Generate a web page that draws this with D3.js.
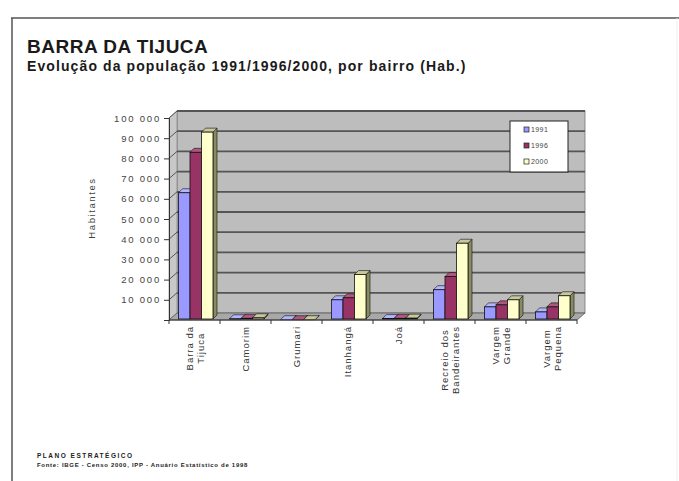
<!DOCTYPE html>
<html><head><meta charset="utf-8">
<script src="https://cdn.jsdelivr.net/npm/d3@7"></script>
<style>
html,body{margin:0;padding:0;background:#fff;}
svg{display:block;font-family:Arial,"Liberation Sans",sans-serif;}
</style></head>
<body><svg id="c" width="679" height="481"></svg>
<script>
const categories = [["Barra da","Tijuca"],["Camorim"],["Grumari"],["Itanhangá"],["Joá"],["Recreio dos","Bandeirantes"],["Vargem","Grande"],["Vargem","Pequena"]];
const seriesNames = ["1991","1996","2000"];
const v1991 = [63000, 600, 150, 10000, 700, 15000, 6500, 4000];
const v1996 = [83000, 800, 130, 11000, 800, 21500, 7500, 6500];
const v2000 = [93000, 1100, 140, 22500, 900, 38000, 10000, 12000];
const yTicks = [10000,20000,30000,40000,50000,60000,70000,80000,90000,100000];
const colors = ["#9999FF","#993366","#FFFFCC"];
const topCols = ["#b4b4ff","#b0577f","#c8c89a"];
const sideCols = ["#5e5ea8","#5e1f3f","#8a8a60"];

const svg = d3.select("#c");
// frame
svg.append("line").attr("x1",11).attr("x2",679).attr("y1",18).attr("y2",18).attr("stroke","#555").attr("stroke-width",1.5);
svg.append("line").attr("x1",12).attr("x2",12).attr("y1",18).attr("y2",481).attr("stroke","#555").attr("stroke-width",1.5);
svg.append("line").attr("x1",677).attr("x2",677).attr("y1",18).attr("y2",481).attr("stroke","#eee").attr("stroke-width",1);

svg.append("text").attr("x",27).attr("y",53).attr("font-size",19).attr("font-weight","bold").attr("letter-spacing",0.5).attr("fill","#1a1a1a").text("BARRA DA TIJUCA");
svg.append("text").attr("x",27).attr("y",71).attr("font-size",14).attr("font-weight","bold").attr("letter-spacing",1.1).attr("fill","#1a1a1a").text("Evolução da população 1991/1996/2000, por bairro (Hab.)");

const x0 = 169, x1 = 577;
const x = d3.scaleBand().domain(d3.range(categories.length)).range([x0,x1]);
const y = d3.scaleLinear().domain([0,100000]).range([320,118]);
const DX = 8, DY = 7;

const g = svg.append("g");
// back wall
g.append("rect").attr("x",x0+DX).attr("y",y(100000)-DY).attr("width",x1-x0).attr("height",y(0)-y(100000))
  .attr("fill","#bdbdbd").attr("stroke","#777").attr("stroke-width",0.8);
// left side wall
g.append("path").attr("d",`M${x0},${y(0)}L${x0},${y(100000)}L${x0+DX},${y(100000)-DY}L${x0+DX},${y(0)-DY}Z`)
  .attr("fill","#c8c8c8").attr("stroke","#777").attr("stroke-width",0.6);
// floor
g.append("path").attr("d",`M${x0},${y(0)}L${x1},${y(0)}L${x1+DX},${y(0)-DY}L${x0+DX},${y(0)-DY}Z`)
  .attr("fill","#a8a8a8").attr("stroke","#555").attr("stroke-width",0.8);
// gridlines
yTicks.forEach(t=>{
  g.append("line").attr("x1",x0+DX).attr("x2",x1+DX).attr("y1",y(t)-DY).attr("y2",y(t)-DY).attr("stroke","#555").attr("stroke-width",1.8);
  g.append("line").attr("x1",x0).attr("x2",x0+DX).attr("y1",y(t)).attr("y2",y(t)-DY).attr("stroke","#555").attr("stroke-width",1);
});

// y axis
const yAxis = d3.axisLeft(y).tickValues(yTicks).tickSize(5).tickPadding(3)
  .tickFormat(d=>d3.format(",")(d).replace(/,/g," "));
const ya = svg.append("g").attr("transform",`translate(${x0},0)`).call(yAxis);
ya.select(".domain").attr("stroke","#333");
ya.selectAll(".tick line").attr("stroke","#333");
ya.selectAll("text").attr("font-size",9.5).attr("fill","#444").attr("letter-spacing",1.8).attr("font-family","Arial,sans-serif");

// x axis ticks
const xa = svg.append("g").attr("transform",`translate(0,${y(0)})`);
xa.append("line").attr("x1",x0).attr("x2",x1).attr("stroke","#333");
d3.range(categories.length+1).forEach(i=>{
  const xx = i<categories.length ? x(i) : x1;
  xa.append("line").attr("x1",xx).attr("x2",xx).attr("y1",0).attr("y2",4).attr("stroke","#333");
});

// bars
const series = [v1991,v1996,v2000];
const bw = 11.5, off = 9.5, BDX = 4, BDY = 4;
categories.forEach((c,i)=>{
  series.forEach((vals,s)=>{
    const v = vals[i];
    const bx = x(i)+off+s*bw, yv = y(v), yb = y(0)-1;
    const bg = g.append("g");
    bg.append("path").attr("d",`M${bx+bw},${yv}L${bx+bw+BDX},${yv-BDY}L${bx+bw+BDX},${yb-BDY}L${bx+bw},${yb}Z`)
      .attr("fill",sideCols[s]).attr("stroke","#111").attr("stroke-width",0.6);
    bg.append("path").attr("d",`M${bx},${yv}L${bx+BDX},${yv-BDY}L${bx+bw+BDX},${yv-BDY}L${bx+bw},${yv}Z`)
      .attr("fill",topCols[s]).attr("stroke","#111").attr("stroke-width",0.6);
    bg.append("rect").attr("x",bx).attr("y",yv).attr("width",bw).attr("height",Math.max(0,yb-yv))
      .attr("fill",colors[s]).attr("stroke","#111").attr("stroke-width",0.8);
  });
});

// x labels
categories.forEach((lines,i)=>{
  const cx = x(i)+x.bandwidth()/2;
  const t = svg.append("text").attr("font-size",9.5).attr("fill","#333").attr("letter-spacing",1).attr("text-anchor","middle");
  lines.forEach((l,k)=>{
    t.append("tspan").attr("x",0).attr("y",(k-(lines.length-1)/2)*11+3.5).text(l);
  });
  let maxLen = 0;
  t.selectAll("tspan").each(function(){maxLen=Math.max(maxLen,this.getComputedTextLength());});
  t.attr("transform",`translate(${cx},${y(0)+6+maxLen/2}) rotate(-90)`);
});

// y title
svg.append("text").attr("transform","translate(95,208) rotate(-90)").attr("text-anchor","middle")
  .attr("font-size",9.5).attr("fill","#444").attr("letter-spacing",1.6).text("Habitantes");

// legend
const lg = svg.append("g").attr("transform","translate(510,121)");
lg.append("rect").attr("width",58).attr("height",51).attr("fill","#fff").attr("stroke","#222").attr("stroke-width",1);
seriesNames.forEach((n,s)=>{
  const yy = 11 + s*16;
  lg.append("rect").attr("x",14).attr("y",yy-5).attr("width",5).attr("height",5).attr("fill",colors[s]).attr("stroke","#222").attr("stroke-width",0.7);
  lg.append("text").attr("x",21).attr("y",yy).attr("font-size",7).attr("fill","#444").attr("letter-spacing",0.4).text(n);
});

// footer
svg.append("text").attr("x",37).attr("y",458).attr("font-size",6.5).attr("font-weight","bold").attr("fill","#222").attr("letter-spacing",1.5).text("PLANO ESTRATÉGICO");
svg.append("text").attr("x",37).attr("y",467).attr("font-size",6).attr("font-weight","bold").attr("fill","#222").attr("letter-spacing",0.7).text("Fonte: IBGE - Censo 2000, IPP - Anuário Estatístico de 1998");
</script></body></html>
